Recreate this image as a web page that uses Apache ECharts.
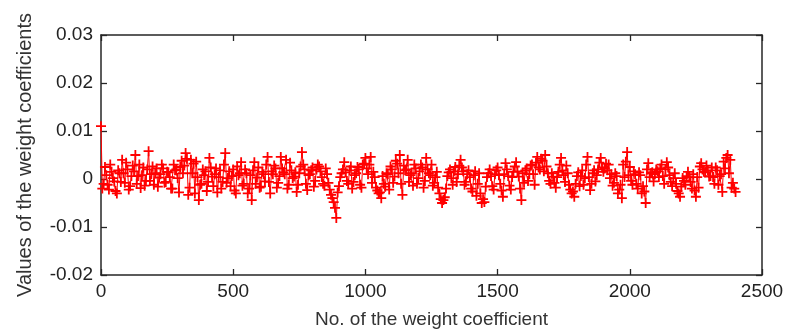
<!DOCTYPE html>
<html>
<head>
<meta charset="utf-8">
<script src="https://cdn.jsdelivr.net/npm/echarts@6/dist/echarts.min.js"></script>
<style>html,body{margin:0;padding:0;background:#fff;overflow:hidden}#c{width:797px;height:331px}</style>
</head>
<body>
<div id="c"></div>
<script>
// Indices of the plotted weight coefficients (first set)
const indicesA = [
  0,10,20,30,40,50,60,70,80,90,100,110,120,130,140,150,160,170,180,190,200,
  210,220,230,240,250,260,270,280,290,300,310,320,330,340,350,360,370,380,390,400,
  410,420,430,440,450,460,470,480,490,500,510,520,530,540,550,560,570,580,590,600,
  610,620,630,640,650,660,670,680,690,700,710,720,730,740,750,760,770,780,790,800,
  810,820,830,840,850,860,870,880,890,900,910,920,930,940,950,960,970,980,990,1000,
  1010,1020,1030,1040,1050,1060,1070,1080,1090,1100,1110,1120,1130,1140,1150,1160,1170,1180,1190,1200,
  1210,1220,1230,1240,1250,1260,1270,1280,1290,1300,1310,1320,1330,1340,1350,1360,1370,1380,1390,1400,
  1410,1420,1430,1440,1450,1460,1470,1480,1490,1500,1510,1520,1530,1540,1550,1560,1570,1580,1590,1600,
  1610,1620,1630,1640,1650,1660,1670,1680,1690,1700,1710,1720,1730,1740,1750,1760,1770,1780,1790,1800,
  1810,1820,1830,1840,1850,1860,1870,1880,1890,1900,1910,1920,1930,1940,1950,1960,1970,1980,1990,2000,
  2010,2020,2030,2040,2050,2060,2070,2080,2090,2100,2110,2120,2130,2140,2150,2160,2170,2180,2190,2200,
  2210,2220,2230,2240,2250,2260,2270,2280,2290,2300,2310,2320,2330,2340,2350,2360,2370,2380,2390,2400
];
const weightsA = [
  0.0110,-0.0010,0.0008,-0.0022,0.0015,-0.0005,-0.0030,0.0012,0.0040,-0.0008,0.0020,
  -0.0015,0.0028,0.0050,0.0006,-0.0019,0.0024,-0.0004,0.0058,0.0010,-0.0012,
  0.0022,0.0003,0.0030,-0.0008,0.0015,0.0004,-0.0020,0.0018,0.0002,0.0025,
  0.0012,0.0054,-0.0033,0.0040,0.0032,0.0036,-0.0044,-0.0010,0.0008,-0.0025,
  0.0044,0.0005,0.0010,-0.0028,0.0018,-0.0006,0.0054,0.0002,-0.0015,0.0020,
  -0.0030,0.0008,0.0035,-0.0010,0.0012,-0.0020,-0.0044,0.0035,0.0003,-0.0018,
  0.0015,-0.0005,0.0046,-0.0030,0.0010,0.0022,-0.0008,0.0046,0.0014,0.0040,
  -0.0012,0.0018,0.0005,-0.0027,0.0012,0.0056,0.0020,-0.0023,0.0010,0.0024,
  -0.0004,0.0030,0.0016,-0.0010,0.0022,-0.0008,-0.0033,-0.0048,-0.0081,-0.0015,
  0.0012,0.0035,-0.0004,0.0018,-0.0020,0.0008,0.0025,-0.0012,0.0030,0.0044,
  0.0010,0.0046,0.0015,-0.0018,-0.0030,-0.0040,-0.0010,0.0012,-0.0022,0.0020,
  0.0005,0.0032,0.0050,-0.0033,0.0018,0.0040,0.0008,-0.0014,0.0022,0.0002,
  0.0030,-0.0018,0.0044,0.0012,0.0030,-0.0008,0.0015,-0.0030,-0.0050,-0.0038,
  0.0006,0.0020,-0.0012,0.0025,0.0010,0.0040,0.0016,-0.0006,0.0018,-0.0020,
  0.0008,-0.0035,0.0012,-0.0050,-0.0048,0.0004,0.0020,-0.0015,0.0010,0.0024,
  -0.0010,-0.0037,0.0033,0.0006,-0.0022,0.0015,0.0035,0.0005,-0.0044,-0.0008,
  0.0022,0.0010,0.0030,-0.0012,0.0046,0.0020,0.0038,0.0050,0.0012,-0.0010,
  0.0005,-0.0018,0.0015,0.0044,0.0008,0.0028,-0.0012,-0.0030,-0.0037,0.0006,
  -0.0015,0.0018,0.0002,0.0046,-0.0023,0.0012,-0.0005,0.0020,0.0044,0.0015,
  0.0032,0.0030,0.0010,-0.0008,0.0006,-0.0022,-0.0040,0.0004,0.0056,0.0025,
  -0.0012,0.0010,-0.0020,0.0008,-0.0015,-0.0050,0.0033,0.0012,-0.0005,0.0020,
  0.0004,0.0030,-0.0010,0.0035,0.0008,-0.0015,0.0012,-0.0025,-0.0037,0.0002,
  -0.0012,0.0015,-0.0006,0.0010,-0.0037,-0.0018,0.0033,0.0015,0.0028,0.0005,
  0.0024,-0.0010,0.0018,0.0006,-0.0027,0.0022,0.0050,0.0040,-0.0008,-0.0027
];
// Indices of the plotted weight coefficients (in-between set)
const indicesB = [
  5,15,25,35,45,55,65,75,85,95,105,115,125,135,145,155,165,175,185,195,
  205,215,225,235,245,255,265,275,285,295,305,315,325,335,345,355,365,375,385,395,
  405,415,425,435,445,455,465,475,485,495,505,515,525,535,545,555,565,575,585,595,
  605,615,625,635,645,655,665,675,685,695,705,715,725,735,745,755,765,775,785,795,
  805,815,825,835,845,855,865,875,885,895,905,915,925,935,945,955,965,975,985,995,
  1005,1015,1025,1035,1045,1055,1065,1075,1085,1095,1105,1115,1125,1135,1145,1155,1165,1175,1185,1195,
  1205,1215,1225,1235,1245,1255,1265,1275,1285,1295,1305,1315,1325,1335,1345,1355,1365,1375,1385,1395,
  1405,1415,1425,1435,1445,1455,1465,1475,1485,1495,1505,1515,1525,1535,1545,1555,1565,1575,1585,1595,
  1605,1615,1625,1635,1645,1655,1665,1675,1685,1695,1705,1715,1725,1735,1745,1755,1765,1775,1785,1795,
  1805,1815,1825,1835,1845,1855,1865,1875,1885,1895,1905,1915,1925,1935,1945,1955,1965,1975,1985,1995,
  2005,2015,2025,2035,2045,2055,2065,2075,2085,2095,2105,2115,2125,2135,2145,2155,2165,2175,2185,2195,
  2205,2215,2225,2235,2245,2255,2265,2275,2285,2295,2305,2315,2325,2335,2345,2355,2365,2375,2385,2395
];
const weightsB = [
  -0.0020,0.0025,-0.0012,0.0030,0.0002,-0.0025,0.0018,-0.0006,0.0012,0.0034,
  -0.0022,0.0006,0.0016,-0.0010,0.0030,0.0008,-0.0014,0.0020,-0.0004,0.0026,
  0.0012,-0.0016,0.0010,0.0022,-0.0006,0.0014,-0.0020,0.0030,0.0020,-0.0028,
  0.0038,0.0028,0.0042,-0.0018,0.0012,-0.0030,0.0004,-0.0012,0.0020,0.0016,
  -0.0006,0.0024,
  -0.0015,0.0022,0.0004,-0.0020,0.0030,-0.0008,0.0016,0.0006,-0.0024,0.0026,
  0.0012,-0.0014,0.0020,-0.0030,0.0008,0.0018,-0.0010,0.0024,-0.0016,0.0010,
  0.0030,-0.0006,0.0016,0.0028,-0.0018,0.0006,0.0022,0.0010,-0.0020,0.0034,
  0.0002,0.0014,-0.0012,0.0026,0.0030,-0.0010,0.0008,0.0018,-0.0016,0.0020,
  0.0026,0.0004,
  -0.0014,0.0010,-0.0022,-0.0040,-0.0060,-0.0028,0.0004,0.0020,0.0014,-0.0010,
  0.0026,-0.0006,0.0012,0.0020,-0.0018,0.0032,0.0022,0.0030,-0.0008,0.0004,
  -0.0024,-0.0028,0.0006,-0.0016,0.0010,0.0026,-0.0008,0.0038,0.0012,-0.0010,
  0.0028,0.0020,-0.0006,0.0012,0.0030,-0.0010,0.0016,0.0024,-0.0004,0.0020,
  0.0008,-0.0014,
  0.0004,-0.0018,-0.0042,-0.0044,-0.0020,0.0014,0.0002,0.0016,-0.0006,0.0028,
  0.0024,-0.0012,0.0010,0.0004,-0.0026,0.0016,-0.0010,-0.0030,-0.0042,-0.0016,
  0.0012,0.0006,-0.0022,0.0018,0.0008,-0.0024,0.0010,0.0020,-0.0014,0.0004,
  0.0026,0.0016,-0.0020,0.0012,0.0018,-0.0004,0.0028,0.0010,0.0034,0.0024,
  0.0042,0.0016,
  0.0026,-0.0004,0.0012,-0.0008,0.0004,0.0030,0.0018,-0.0006,0.0012,-0.0022,
  -0.0026,-0.0010,0.0014,0.0006,-0.0012,0.0030,0.0004,-0.0010,0.0018,0.0008,
  0.0034,0.0024,0.0022,0.0018,0.0002,-0.0014,0.0012,-0.0030,-0.0012,0.0030,
  0.0036,0.0008,-0.0004,0.0016,-0.0010,0.0014,-0.0030,-0.0026,0.0020,0.0004,
  0.0014,
  0.0010,0.0016,0.0022,0.0006,0.0020,0.0024,-0.0006,0.0002,-0.0010,-0.0030,
  -0.0016,-0.0004,0.0006,0.0004,-0.0020,-0.0024,0.0004,0.0026,0.0020,0.0014,
  0.0018,0.0006,0.0004,0.0024,-0.0012,0.0010,0.0036,0.0044,0.0012,-0.0018,
  -0.0020
];
const xTicks = [0, 500, 1000, 1500, 2000, 2500];
const yTicks = [-0.02, -0.01, 0, 0.01, 0.02, 0.03];
const xTitle = 'No. of the weight coefficient';
const yTitle = 'Values of the weight coefficients';

const pts = indicesA.map((x, i) => [x, weightsA[i]])
  .concat(indicesB.map((x, i) => [x, weightsB[i]]))
  .sort((a, b) => a[0] - b[0]);
const font = '"Liberation Sans", Arial, sans-serif';
const axisColor = '#262626';
const plus = 'path://M4.1,0h1.8v4.1h4.1v1.8h-4.1v4.1h-1.8v-4.1h-4.1v-1.8h4.1z';

const chart = echarts.init(document.getElementById('c'), null, {renderer: 'canvas'});
const yLabel = v => {
  const r = Math.round(v * 100) / 100;
  return r === 0 ? '0' : String(r);
};
const xLabel = v => String(v);
const xMin = xTicks[0], xMax = xTicks[xTicks.length - 1];
const yMin = yTicks[0], yMax = yTicks[yTicks.length - 1];
chart.setOption({
  animation: false,
  backgroundColor: '#fff',
  grid: {left: 101, right: 35, top: 35, bottom: 56, containLabel: false, outerBoundsMode: 'none'},
  xAxis: [{
    type: 'value', min: xMin, max: xMax, interval: 500,
    position: 'bottom',
    name: xTitle, nameLocation: 'middle', nameGap: 35,
    nameTextStyle: {fontFamily: font, fontSize: 19, color: '#333'},
    axisLine: {show: true, onZero: false, lineStyle: {color: axisColor, width: 1.5}},
    axisTick: {show: true, inside: true, length: 6, lineStyle: {color: axisColor, width: 1.3}},
    axisLabel: {fontFamily: font, fontSize: 19, color: '#222', margin: 7, formatter: xLabel},
    splitLine: {show: false}
  }, {
    type: 'value', min: xMin, max: xMax, interval: 500,
    position: 'top',
    axisLine: {show: true, onZero: false, lineStyle: {color: axisColor, width: 1.5}},
    axisTick: {show: true, inside: true, length: 6, lineStyle: {color: axisColor, width: 1.3}},
    axisLabel: {show: false}, splitLine: {show: false}
  }],
  yAxis: [{
    type: 'value', min: yMin, max: yMax, interval: 0.01,
    position: 'left',
    name: yTitle, nameLocation: 'middle', nameGap: 66, nameRotate: 90,
    nameTextStyle: {fontFamily: font, fontSize: 20, color: '#333'},
    axisLine: {show: true, onZero: false, lineStyle: {color: axisColor, width: 1.5}},
    axisTick: {show: true, inside: true, length: 6, lineStyle: {color: axisColor, width: 1.3}},
    axisLabel: {fontFamily: font, fontSize: 19, color: '#222', margin: 8, formatter: yLabel},
    splitLine: {show: false}
  }, {
    type: 'value', min: yMin, max: yMax, interval: 0.01,
    position: 'right',
    axisLine: {show: true, onZero: false, lineStyle: {color: axisColor, width: 1.5}},
    axisTick: {show: true, inside: true, length: 6, lineStyle: {color: axisColor, width: 1.3}},
    axisLabel: {show: false}, splitLine: {show: false}
  }],
  series: [{
    type: 'line',
    data: pts,
    xAxisIndex: 0, yAxisIndex: 0,
    showAllSymbol: true,
    symbol: plus, symbolSize: 10, symbolKeepAspect: true,
    itemStyle: {color: '#ff0000', borderWidth: 0},
    lineStyle: {color: '#ff0000', width: 1},
    emphasis: {disabled: true},
    clip: true
  }]
});
</script>
</body>
</html>
